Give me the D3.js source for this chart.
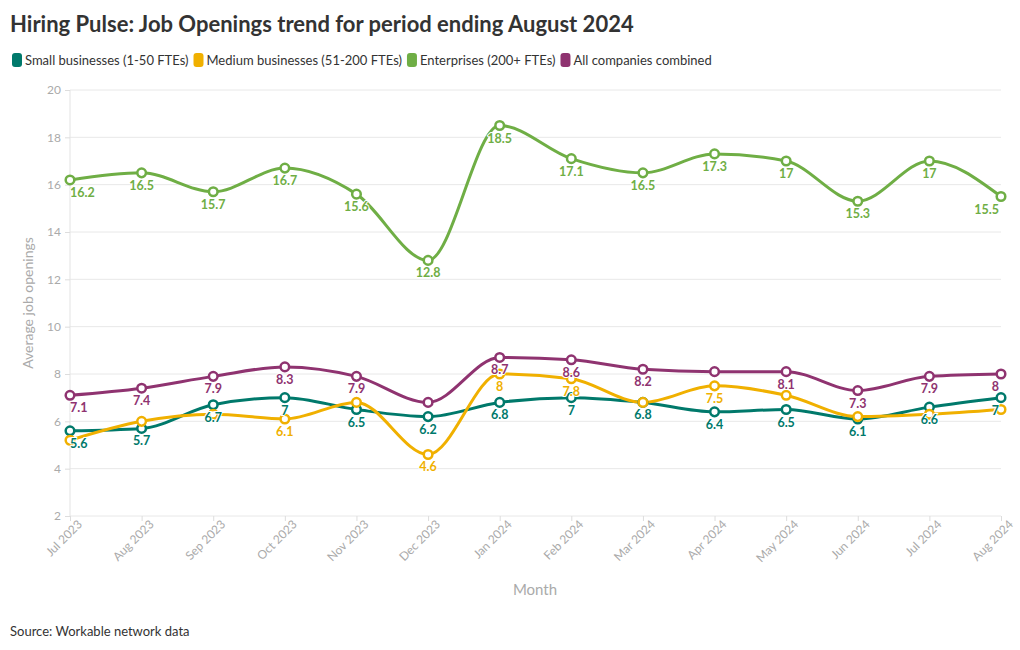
<!DOCTYPE html>
<html><head><meta charset="utf-8">
<script src="https://cdn.jsdelivr.net/npm/d3@7"></script>
<style>
body{margin:0;background:#fff;}
svg{display:block;font-family:Lato,"Noto Sans",sans-serif;}
</style></head>
<body><svg id="c" width="1020" height="650"></svg>
<script>
const months = ["Jul 2023","Aug 2023","Sep 2023","Oct 2023","Nov 2023","Dec 2023","Jan 2024","Feb 2024","Mar 2024","Apr 2024","May 2024","Jun 2024","Jul 2024","Aug 2024"];
const small = [5.6,5.7,6.7,7,6.5,6.2,6.8,7,6.8,6.4,6.5,6.1,6.6,7];
const medium = [5.2,6.0,6.3,6.1,6.8,4.6,8,7.8,6.8,7.5,7.1,6.2,6.3,6.5];
const enterprise = [16.2,16.5,15.7,16.7,15.6,12.8,18.5,17.1,16.5,17.3,17,15.3,17,15.5];
const allCompanies = [7.1,7.4,7.9,8.3,7.9,6.8,8.7,8.6,8.2,8.1,8.1,7.3,7.9,8];
const seriesNames = ["Small businesses (1-50 FTEs)","Medium businesses (51-200 FTEs)","Enterprises (200+ FTEs)","All companies combined"];
const seriesColors = ["#00796b","#f0b000","#6fae45","#8f3370"];
// which value labels are displayed (others hidden by label collision)
const mediumLabelShown = [false,false,false,true,false,true,true,true,false,true,false,false,false,false];
const allLabelShown = [true,true,true,true,true,false,true,true,true,false,true,true,true,true];
const yTicks = [2,4,6,8,10,12,14,16,18,20];

const svg = d3.select("#c");
const L=70, R=1001, T=90, B=516;
const x = d3.scalePoint().domain(months).range([L,R]);
const y = d3.scaleLinear().domain([2,20]).range([B,T]);

svg.append("text").attr("x",10).attr("y",32).attr("font-size",22).attr("font-weight",700)
  .attr("fill","#333").text("Hiring Pulse: Job Openings trend for period ending August 2024");

// legend
const lg = svg.append("g");
let lx = 12;
seriesNames.forEach((n,i)=>{
  lg.append("rect").attr("x",lx).attr("y",53).attr("width",10).attr("height",14).attr("rx",3).attr("fill",seriesColors[i]);
  const t = lg.append("text").attr("x",lx+13).attr("y",65).attr("font-size",13).attr("fill","#333").text(n);
  lx += 13 + t.node().getComputedTextLength() + 5;
});

// grid
const g = svg.append("g");
g.selectAll(".grid").data(yTicks).join("line")
  .attr("x1",L).attr("x2",R).attr("y1",d=>y(d)).attr("y2",d=>y(d))
  .attr("stroke","#e8e8e8").attr("stroke-width",1);
g.append("line").attr("x1",L).attr("x2",L).attr("y1",T).attr("y2",B).attr("stroke","#e3e3e3");

// y axis
const ya = svg.append("g").attr("transform",`translate(${L},0)`)
  .call(d3.axisLeft(y).tickValues(yTicks).tickSize(5).tickPadding(4));
ya.select(".domain").remove();
ya.selectAll("line").attr("stroke","#ddd");
ya.selectAll("text").attr("fill","#aaa").attr("font-size",12).attr("font-family","Lato,sans-serif");

// x axis
const xa = svg.append("g").attr("transform",`translate(0,${B})`)
  .call(d3.axisBottom(x).tickSize(5).tickPadding(3));
xa.select(".domain").remove();
xa.selectAll("line").attr("stroke","#ddd");
xa.selectAll("text").attr("fill","#aaa").attr("font-size",12).attr("font-family","Lato,sans-serif")
  .attr("text-anchor","end").attr("dx","0.2em").attr("dy","0.6em")
  .attr("transform","rotate(-45)");

svg.append("text").attr("transform",`translate(33,${(T+B)/2}) rotate(-90)`).attr("text-anchor","middle")
  .attr("font-size",14).attr("fill","#aaa").text("Average job openings");
svg.append("text").attr("x",535).attr("y",595).attr("text-anchor","middle")
  .attr("font-size",15).attr("fill","#aaa").text("Month");
svg.append("text").attr("x",10).attr("y",636).attr("font-size",13).attr("fill","#333").text("Source: Workable network data");

const series = [
  {vals:small, color:seriesColors[0], shown:small.map(()=>true)},
  {vals:medium, color:seriesColors[1], shown:mediumLabelShown},
  {vals:enterprise, color:seriesColors[2], shown:enterprise.map(()=>true)},
  {vals:allCompanies, color:seriesColors[3], shown:allLabelShown}
];
const line = d3.line().x((d,i)=>x(months[i])).y(d=>y(d)).curve(d3.curveMonotoneX);
const plot = svg.append("g");
series.forEach(s=>{
  plot.append("path").attr("d",line(s.vals)).attr("fill","none").attr("stroke",s.color).attr("stroke-width",3);
});
series.forEach(s=>{
  plot.selectAll(null).data(s.vals).join("circle")
    .attr("cx",(d,i)=>x(months[i])).attr("cy",d=>y(d)).attr("r",4.3)
    .attr("fill","#fff").attr("stroke",s.color).attr("stroke-width",2.5);
});
series.forEach(s=>{
  plot.selectAll(null).data(s.vals.map((v,i)=>({v,i})).filter(d=>s.shown[d.i])).join("text")
    .attr("x",d=>x(months[d.i]) + (d.i===0?0:(d.i===months.length-1?-2:0)))
    .attr("y",d=>y(d.v)+17)
    .attr("text-anchor",d=>d.i===0?"start":(d.i===months.length-1?"end":"middle"))
    .attr("font-size",12.5).attr("font-weight",700).attr("fill",s.color)
    .attr("stroke","#fff").attr("stroke-width",2).attr("paint-order","stroke")
    .text(d=>d.v);
});
</script></body></html>
